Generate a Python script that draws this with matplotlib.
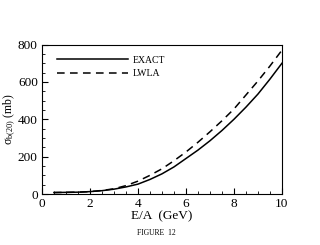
import matplotlib
matplotlib.use("Agg")
import matplotlib.pyplot as plt
from matplotlib.ticker import MultipleLocator

energy = [0.5, 1.0, 1.5, 2.0, 2.5, 3.0, 3.5, 4.0, 4.5, 5.0, 5.5, 6.0, 6.5, 7.0, 7.5, 8.0, 8.5, 9.0, 9.5, 10.0]
exact = [8, 9, 10, 13, 18, 26, 38, 53, 78, 108, 145, 190, 235, 285, 340, 400, 465, 535, 615, 700]
lwla = [8, 9, 10, 13, 19, 28, 45, 69, 100, 135, 178, 225, 277, 333, 392, 455, 530, 605, 685, 770]

plt.rcParams['font.family'] = ['Liberation Serif', 'DejaVu Serif']
plt.rcParams['mathtext.fontset'] = 'custom'
plt.rcParams['mathtext.rm'] = 'Liberation Serif'
plt.rcParams['mathtext.it'] = 'Liberation Serif'

fig = plt.figure(figsize=(3.2, 2.45), dpi=100)
ax = fig.add_axes([0.131, 0.208, 0.75, 0.61])

ax.plot(energy, exact, color='black', lw=1.1, label='EXACT')
ax.plot(energy, lwla, color='black', lw=1.1, ls=(0, (5, 3.5)), label='LWLA')

ax.set_xlim(0, 10)
ax.set_ylim(0, 800)
ax.xaxis.set_major_locator(MultipleLocator(2))
ax.xaxis.set_minor_locator(MultipleLocator(0.5))
ax.yaxis.set_major_locator(MultipleLocator(200))
ax.yaxis.set_minor_locator(MultipleLocator(50))
ax.tick_params(which='both', direction='in', top=False, right=False, labelsize=9.5, pad=3)
ax.tick_params(which='major', length=4, width=0.8)
ax.tick_params(which='minor', length=2.5, width=0.6)
for s in ax.spines.values():
    s.set_linewidth(0.8)

ax.set_xlabel('E/A  (GeV)', fontsize=9.5, labelpad=0)
ax.set_ylabel('σ$_{b(20)}$ (mb)', fontsize=8.5)
ax.yaxis.set_label_coords(-0.1, 0.5)

leg = ax.legend(loc='upper left', frameon=False, fontsize=7, handlelength=7.3,
                handletextpad=0.5, borderaxespad=0.3, bbox_to_anchor=(0.035, 0.97),
                labelspacing=0.45)

fig.text(0.49, 0.048, 'FIGURE  12', fontsize=5.5, ha='center', va='center')

fig.savefig('out.png', dpi=100)
